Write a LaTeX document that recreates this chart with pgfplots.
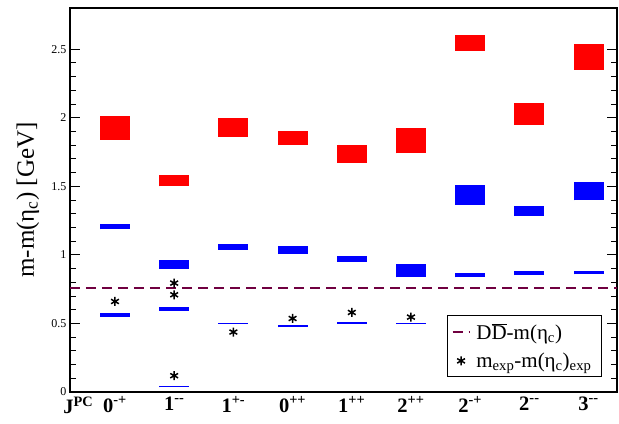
\documentclass[border=0pt]{standalone}
\usepackage{fontspec}
\setmainfont{Liberation Serif}
\usepackage{pgfplots}
\pgfplotsset{compat=1.18}
\usepackage{pgfplotstable}
\usetikzlibrary{calc}
\definecolor{thrline}{RGB}{112,0,64}

% upper (red) and lower (blue) mass bands: category, low edge, high edge
\pgfplotstableread{
x lo hi
0 1.84 2.01
1 1.50 1.58
2 1.86 2.00
3 1.80 1.90
4 1.67 1.80
5 1.74 1.925
6 2.49 2.605
7 1.95 2.105
8 2.35 2.54
}\redtab
\pgfplotstableread{
x lo hi
0 1.185 1.225
0 0.548 0.575
1 0.900 0.961
1 0.594 0.621
1 0.033 0.042
2 1.036 1.082
2 0.497 0.506
3 1.005 1.061
3 0.471 0.488
4 0.951 0.995
4 0.496 0.508
5 0.835 0.934
5 0.495 0.505
6 1.366 1.510
6 0.835 0.869
7 1.284 1.359
7 0.852 0.881
8 1.398 1.532
8 0.857 0.883
}\bluetab
\pgfplotstableread{
x y
0 0.660
1 0.794
1 0.709
1 0.119
2 0.437
3 0.536
4 0.580
5 0.546
}\exptab

\begin{document}
\begin{tikzpicture}
\begin{axis}[
  scale only axis,
  width=547pt, height=384pt,
  xmin=-0.76, xmax=8.48,
  ymin=0, ymax=2.8,
  axis line style={line width=1.4pt},
  xtick={-0.62,0,1,2,3,4,5,6,7,8},
  xticklabels={
    {J\textsuperscript{PC}},
    {0\textsuperscript{-+}},
    {1\textsuperscript{-{}-}},
    {1\textsuperscript{+-}},
    {0\textsuperscript{++}},
    {1\textsuperscript{++}},
    {2\textsuperscript{++}},
    {2\textsuperscript{-+}},
    {2\textsuperscript{-{}-}},
    {3\textsuperscript{-{}-}}},
  x tick style={draw=none},
  xticklabel style={font=\fontsize{20.5}{20}\selectfont\bfseries, yshift=-1pt},
  ytick={0,0.5,1,1.5,2,2.5},
  minor y tick num=4,
  tick align=inside,
  major tick length=10pt,
  minor tick length=6pt,
  y tick style={line width=0.8pt, black},
  yticklabel style={font=\fontsize{12}{12}\selectfont},
  /pgf/number format/assume math mode=true,
  ylabel={m-m(η\textsubscript{c}) [GeV]},
  ylabel style={font=\fontsize{25}{25}\selectfont, at={(axis description cs:-0.077,0.5)}, anchor=center},
  legend style={at={(0.9725,0.038)}, anchor=south east, draw=black, line width=1pt,
    font=\fontsize{21}{23}\selectfont, inner xsep=4pt, inner ysep=6pt, row sep=8pt,
    nodes={inner xsep=6pt}},
  legend cell align=left,
]
\addplot[forget plot, draw=none,
  error bars/.cd, y dir=plus, y explicit, error mark=none,
  error bar style={line width=30pt, draw=red}]
  table[x=x, y=lo, y error expr=\thisrow{hi}-\thisrow{lo}] {\redtab};
\addplot[forget plot, draw=none,
  error bars/.cd, y dir=plus, y explicit, error mark=none,
  error bar style={line width=30pt, draw=blue}]
  table[x=x, y=lo, y error expr=\thisrow{hi}-\thisrow{lo}] {\bluetab};
\addplot[thrline, line width=1.5pt, dash pattern=on 10pt off 6pt,
  legend image post style={thrline, line width=1.5pt}]
  coordinates {(-0.76,0.76) (8.48,0.76)};
\addlegendentry{D\ensuremath{\overline{\mbox{D}}}-m(η\textsubscript{c})}
\addplot[only marks, mark=asterisk, mark size=4.5pt, line width=1.5pt, black]
  table[x=x, y=y] {\exptab};
\addlegendentry{m\textsubscript{exp}-m(η\textsubscript{c})\textsubscript{exp}}
\end{axis}
\path ($(current axis.south west)+(-70pt,-32pt)$) rectangle ($(current axis.north east)+(2pt,8pt)$);
\end{tikzpicture}
\end{document}
